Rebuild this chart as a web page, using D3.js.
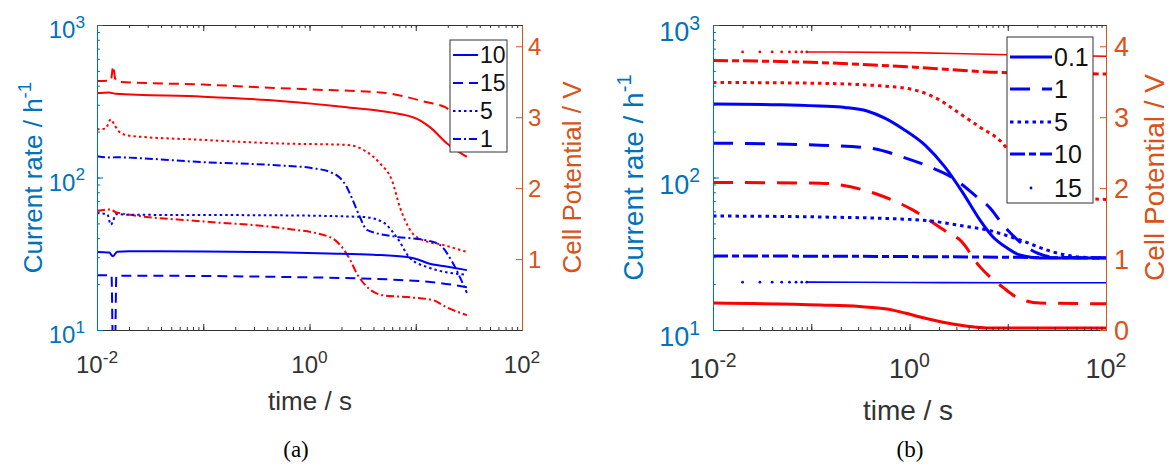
<!DOCTYPE html>
<html><head><meta charset="utf-8">
<script src="https://cdn.jsdelivr.net/npm/d3@7"></script>
<style>
body{margin:0;background:#fff}
svg{display:block}
</style>
</head><body>
<svg id="c" width="1172" height="466"></svg>
<script>
// ---------------- DATA ----------------
// tick values
const timeTicks = [0.01, 1, 100];
const rateTicks = [10, 100, 1000];
const potTicksA = [1, 2, 3, 4];
const potTicksB = [0, 1, 2, 3, 4];
const legendA = ["10", "15", "5", "1"];
const legendB = ["0.1", "1", "5", "10", "15"];

// Panel (a): current rate (h^-1) vs time (s)
const a_rate_10 = [[0.01,32.5],[0.013,32.2],[0.0141,30.5],[0.0155,32.6],[0.02,32.9],[0.1,32.7],[0.5,32.3],[1.5,31.8],[4,31.2],[8.3,30.1],[10.5,29],[12.8,27.5],[20,26],[30.3,24.7]];
const a_rate_15 = [[0.01,22.9],[0.0137,22.8],[0.0141,8],[0.0148,8],[0.0152,22.6],[0.02,22.7],[0.5,22.3],[7,21.3],[17,20.3],[30.3,19.1]];
const a_rate_5  = [[0.01,58.5],[0.0125,57.5],[0.0135,49],[0.0142,52],[0.015,57.5],[0.02,57],[0.5,56.5],[3.2,55.1],[4.9,51],[6.7,40.1],[8.8,29.7],[12.8,25.9],[30.3,23]];
const a_rate_1  = [[0.01,138],[0.0135,135],[0.015,136],[0.02,135],[0.1,126],[0.527,120],[1.08,115],[1.56,108.6],[1.94,99.3],[2.24,86.7],[2.55,71.2],[2.98,55.1],[3.47,45.3],[6.67,40.8],[12,39],[16.9,36.1],[22,28],[30.3,17.5]];
// Panel (a): cell potential (V) vs time (s)
const a_volt_10 = [[0.01,3.34],[0.013,3.35],[0.015,3.33],[0.1,3.29],[0.527,3.23],[2.24,3.14],[9.4,3.0],[13.6,2.86],[19.7,2.63],[30.3,2.44]];
const a_volt_15 = [[0.01,3.51],[0.0135,3.52],[0.0142,3.72],[0.0148,3.55],[0.016,3.5],[0.1,3.46],[0.527,3.41],[1.08,3.39],[4.6,3.35],[12.8,3.21],[19.5,3.13],[25,2.8],[30.3,2.54]];
const a_volt_5  = [[0.01,2.83],[0.012,2.84],[0.0135,2.97],[0.0145,2.9],[0.016,2.8],[0.02,2.74],[0.1,2.68],[0.527,2.63],[2.24,2.61],[3.47,2.51],[4.6,2.35],[5.97,2.11],[7.1,1.73],[8.84,1.41],[11.5,1.27],[18,1.2],[30.3,1.1]];
const a_volt_1  = [[0.01,1.68],[0.0135,1.70],[0.015,1.66],[0.1,1.53],[0.527,1.44],[1.56,1.31],[1.94,1.2],[2.41,0.99],[2.78,0.8],[3.47,0.61],[4.92,0.49],[8.84,0.46],[14.6,0.42],[19.5,0.32],[30.3,0.21]];

// Panel (b): current rate
const b_rate_01 = [[0.01,303],[0.05,300],[0.123,294],[0.22,288],[0.37,273],[0.56,245],[0.86,208],[1.44,163],[2.3,117],[3.51,79],[5.22,52.6],[7.08,40.7],[9.83,34.5],[13.3,31],[21.3,29.7],[100,29.7]];
const b_rate_1  = [[0.01,168],[0.123,163],[0.396,156],[0.86,136],[1.62,117],[2.76,99.3],[4.87,74.5],[6.6,63.1],[8.95,48.9],[13.3,37.8],[19.8,32],[30,30],[100,29.7]];
const b_rate_5  = [[0.01,55.9],[0.123,55.1],[1.28,52.6],[4.13,47.3],[6.15,45.3],[13.3,38.9],[28.9,32.5],[54.3,30.1],[100,29.7]];
const b_rate_10 = [[0.01,30.6],[1,30.3],[10,30],[100,29.6]];
const b_rate_15 = [[0.09,20.6],[1,20.5],[10,20.4],[100,20.4]];
const b_rate_15_dots = [[0.02,20.6],[0.03,20.6],[0.04,20.6],[0.05,20.6],[0.06,20.6],[0.07,20.6],[0.08,20.6],[0.09,20.6]];
// Panel (b): cell potential
const b_volt_01 = [[0.01,0.38],[0.123,0.352],[0.31,0.331],[0.59,0.296],[0.9,0.239],[1.28,0.183],[1.82,0.134],[2.58,0.092],[4.13,0.049],[6.6,0.028],[100,0.028]];
const b_volt_1  = [[0.01,2.08],[0.123,2.07],[0.5,1.9],[1.09,1.69],[2.41,1.38],[3.26,1.27],[5.22,0.89],[8.95,0.6],[12.4,0.46],[21.3,0.38],[100,0.37]];
const b_volt_5  = [[0.01,3.49],[0.1,3.48],[0.8,3.42],[2.04,3.24],[3.26,3.05],[5.22,2.86],[8.34,2.67],[13.3,2.32],[21.3,2.04],[34,1.9],[100,1.84]];
const b_volt_10 = [[0.01,3.80],[0.123,3.77],[1.28,3.70],[8.95,3.63],[100,3.61]];
const b_volt_15 = [[0.09,3.92],[1,3.91],[10,3.88],[100,3.86]];
const b_volt_15_dots = [[0.02,3.92],[0.03,3.92],[0.04,3.92],[0.05,3.92],[0.06,3.92],[0.07,3.92],[0.08,3.92],[0.09,3.92]];

// ---------------- STYLE ----------------
const BLUE = "#0000ff", RED = "#ff0000";
const AXB = "#0072bd", AXO = "#d95319", AXK = "#333333";
const SANS = "Arial, 'Liberation Sans', Helvetica, sans-serif";
const SERIF = "'Liberation Serif', 'Times New Roman', serif";
const svg = d3.select("#c").style("font-family", SANS);

const dashA = {solid:null, dashed:"10,6", dotted:"2.5,3", dashdot:"8,3,2,3"};
const dashB = {solid:null, dashed:"20,12", dotted:"3.5,4", dashdot:"15,4,7,4"};

const panels = [
  {
    id:"a", l:97, r:522, t:25, b:330, potTicks:potTicksA, lw:2,
    tickFont:24, xTickBase:373, lTickEnd:85, lTickDy:13, rTickStart:528, rTickDy:9,
    titleFont:26, lTitleX:42, rTitleX:581, xTitleY:410, xTitleX:310,
    caption:"(a)", capX:296,
    series:[
      {d:a_volt_15, ax:"R", c:RED, dash:dashA.dashed},
      {d:a_volt_10, ax:"R", c:RED, dash:dashA.solid},
      {d:a_volt_5,  ax:"R", c:RED, dash:dashA.dotted},
      {d:a_volt_1,  ax:"R", c:RED, dash:dashA.dashdot},
      {d:a_rate_1,  ax:"L", c:BLUE, dash:dashA.dashdot},
      {d:a_rate_5,  ax:"L", c:BLUE, dash:dashA.dotted},
      {d:a_rate_10, ax:"L", c:BLUE, dash:dashA.solid},
      {d:a_rate_15, ax:"L", c:BLUE, dash:dashA.dashed}
    ],
    legend:{x:450, y:40, w:57, h:112, x0:453, x1:478, tx:480, font:23, rows:[55,83,111,139],
      items:legendA.map((lab,i)=>({lab, dash:[dashA.solid,dashA.dashed,dashA.dotted,dashA.dashdot][i]}))}
  },
  {
    id:"b", l:713, r:1106, t:25, b:330, potTicks:potTicksB, lw:3,
    tickFont:27, xTickBase:378, lTickEnd:700, lTickDy:16, rTickStart:1114, rTickDy:10,
    titleFont:28, lTitleX:643, rTitleX:1164, xTitleY:420, xTitleX:908,
    caption:"(b)", capX:910,
    series:[
      {d:b_volt_15, ax:"R", c:RED, dash:null, w:1.6, dots:b_volt_15_dots},
      {d:b_volt_10, ax:"R", c:RED, dash:dashB.dashdot},
      {d:b_volt_5,  ax:"R", c:RED, dash:dashB.dotted},
      {d:b_volt_1,  ax:"R", c:RED, dash:dashB.dashed},
      {d:b_volt_01, ax:"R", c:RED, dash:dashB.solid},
      {d:b_rate_5,  ax:"L", c:BLUE, dash:dashB.dotted},
      {d:b_rate_10, ax:"L", c:BLUE, dash:dashB.dashdot},
      {d:b_rate_1,  ax:"L", c:BLUE, dash:dashB.dashed},
      {d:b_rate_01, ax:"L", c:BLUE, dash:dashB.solid},
      {d:b_rate_15, ax:"L", c:BLUE, dash:null, w:1.6, dots:b_rate_15_dots}
    ],
    legend:{x:1007, y:37, w:86, h:166, x0:1010, x1:1052, tx:1054, font:25, rows:[57,89,122,154,188],
      items:legendB.map((lab,i)=>({lab, dash:[dashB.solid,dashB.dashed,dashB.dotted,dashB.dashdot,"dot"][i]}))}
  }
];

function powLabel(sel, v, size) {
  const e = Math.round(Math.log10(v));
  sel.append("tspan").text("10");
  sel.append("tspan").attr("dy", -0.42*size).attr("font-size", size*0.72).text(String(e));
}

panels.forEach(P => {
  const g = svg.append("g");
  const x = d3.scaleLog().domain([0.01, 100]).range([P.l, P.r]);
  const yL = d3.scaleLog().domain([10, 1000]).range([P.b, P.t]);
  const yR = d3.scaleLinear().domain([0, 4.3]).range([P.b, P.t]);

  const cid = "clip" + P.id;
  svg.append("clipPath").attr("id", cid).append("rect")
    .attr("x", P.l).attr("y", P.t).attr("width", P.r - P.l).attr("height", P.b - P.t);
  const plot = g.append("g").attr("clip-path", `url(#${cid})`);

  P.series.forEach(s => {
    const ys = s.ax === "L" ? yL : yR;
    const line = d3.line().x(d => x(d[0])).y(d => ys(d[1])).curve(d3.curveMonotoneX);
    plot.append("path").attr("d", line(s.d)).attr("fill", "none")
      .attr("stroke", s.c).attr("stroke-width", s.w || P.lw)
      .attr("stroke-dasharray", s.dash).attr("stroke-linejoin", "round");
    if (s.dots) {
      plot.selectAll(null).data(s.dots).join("circle")
        .attr("cx", d => x(d[0])).attr("cy", d => ys(d[1])).attr("r", 1.4).attr("fill", s.c);
    }
  });

  // x axes (bottom & top) with minor ticks inward
  const styleAxis = (sel, col) => { sel.selectAll("path,line").attr("stroke", col); sel.selectAll("text").remove(); };
  const minorX = x.ticks();
  const majorX = [0.01, 0.1, 1, 10, 100];
  g.append("g").attr("transform", `translate(0,${P.b})`)
    .call(d3.axisBottom(x).tickValues(minorX).tickSize(-3).tickSizeOuter(0).tickFormat(""))
    .call(s => styleAxis(s, AXK));
  g.append("g").attr("transform", `translate(0,${P.b})`)
    .call(d3.axisBottom(x).tickValues(majorX).tickSize(-6).tickSizeOuter(0).tickFormat(""))
    .call(s => styleAxis(s, AXK));
  g.append("g").attr("transform", `translate(0,${P.t})`)
    .call(d3.axisTop(x).tickValues(minorX).tickSize(-3).tickSizeOuter(0).tickFormat(""))
    .call(s => styleAxis(s, AXK));
  g.append("g").attr("transform", `translate(0,${P.t})`)
    .call(d3.axisTop(x).tickValues(majorX).tickSize(-6).tickSizeOuter(0).tickFormat(""))
    .call(s => styleAxis(s, AXK));

  // left log axis
  g.append("g").attr("transform", `translate(${P.l},0)`)
    .call(d3.axisLeft(yL).tickValues(yL.ticks()).tickSize(-3).tickSizeOuter(0).tickFormat(""))
    .call(s => styleAxis(s, AXB));
  g.append("g").attr("transform", `translate(${P.l},0)`)
    .call(d3.axisLeft(yL).tickValues(rateTicks).tickSize(-6).tickSizeOuter(0).tickFormat(""))
    .call(s => styleAxis(s, AXB));
  // right linear axis
  g.append("g").attr("transform", `translate(${P.r},0)`)
    .call(d3.axisRight(yR).tickValues(P.potTicks).tickSize(-6).tickSizeOuter(0).tickFormat(""))
    .call(s => styleAxis(s, AXO));
  g.selectAll("path.domain").attr("stroke-width", 1);

  // tick labels
  timeTicks.forEach(v => {
    const t = g.append("text").attr("x", x(v)).attr("y", P.xTickBase)
      .attr("text-anchor", "middle").attr("font-size", P.tickFont).attr("fill", AXK);
    powLabel(t, v, P.tickFont);
  });
  rateTicks.forEach(v => {
    const t = g.append("text").attr("x", P.lTickEnd).attr("y", yL(v) + P.lTickDy)
      .attr("text-anchor", "end").attr("font-size", P.tickFont).attr("fill", AXB);
    powLabel(t, v, P.tickFont);
  });
  P.potTicks.forEach(v => {
    g.append("text").attr("x", P.rTickStart).attr("y", yR(v) + P.rTickDy)
      .attr("font-size", P.tickFont).attr("fill", AXO).text(String(v));
  });

  // axis titles
  const lt = g.append("text").attr("transform", `translate(${P.lTitleX},${(P.t + P.b) / 2}) rotate(-90)`)
    .attr("text-anchor", "middle").attr("font-size", P.titleFont).attr("fill", AXB);
  lt.append("tspan").text("Current rate / h");
  lt.append("tspan").attr("dy", -0.42 * P.titleFont).attr("font-size", P.titleFont * 0.72).text("-1");
  g.append("text").attr("transform", `translate(${P.rTitleX},${(P.t + P.b) / 2}) rotate(-90)`)
    .attr("text-anchor", "middle").attr("font-size", P.titleFont).attr("fill", AXO).text("Cell Potential / V");
  g.append("text").attr("x", P.xTitleX).attr("y", P.xTitleY).attr("text-anchor", "middle")
    .attr("font-size", P.titleFont).attr("fill", AXK).text("time / s");
  g.append("text").attr("x", P.capX).attr("y", 457).attr("text-anchor", "middle")
    .attr("font-size", 23).style("font-family", SERIF).attr("fill", "#000").text(P.caption);

  // legend
  const L = P.legend;
  const lg = g.append("g");
  lg.append("rect").attr("x", L.x).attr("y", L.y).attr("width", L.w).attr("height", L.h)
    .attr("fill", "#fff").attr("stroke", AXK).attr("stroke-width", 1);
  L.items.forEach((it, i) => {
    const yy = L.rows[i];
    if (it.dash === "dot") {
      lg.append("circle").attr("cx", (L.x0 + L.x1) / 2).attr("cy", yy).attr("r", 1.4).attr("fill", BLUE);
    } else {
      lg.append("line").attr("x1", L.x0).attr("x2", L.x1).attr("y1", yy).attr("y2", yy)
        .attr("stroke", BLUE).attr("stroke-width", P.lw).attr("stroke-dasharray", it.dash);
    }
    lg.append("text").attr("x", L.tx).attr("y", yy).attr("dominant-baseline", "central")
      .attr("font-size", L.font).attr("fill", "#111").text(it.lab);
  });
});
</script>
</body></html>
